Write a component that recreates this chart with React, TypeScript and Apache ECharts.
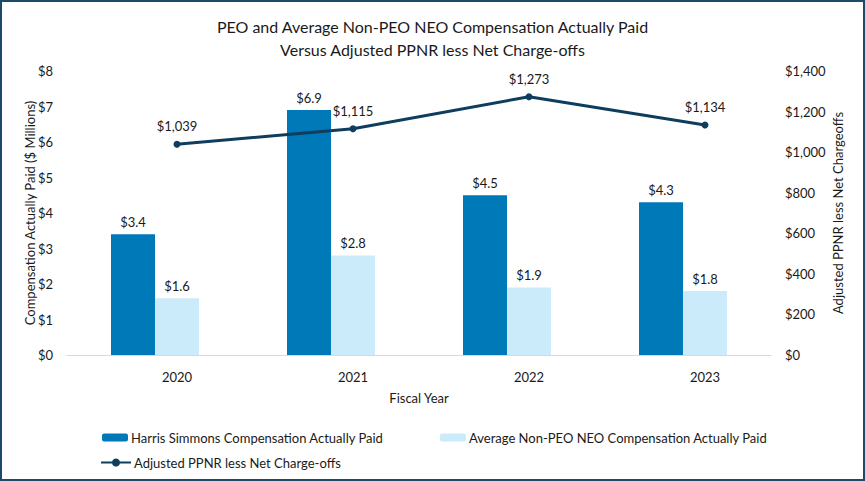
import React, { useEffect, useRef } from "react";
import * as echarts from "echarts";

const categories = ["2020", "2021", "2022", "2023"];
const peoValues = [3.4, 6.9, 4.5, 4.3];
const neoValues = [1.6, 2.8, 1.9, 1.8];
const ppnrValues = [1039, 1115, 1273, 1134];
const leftTicks = { min: 0, max: 8, interval: 1 };
const rightTicks = { min: 0, max: 1400, interval: 200 };

const PEO_NAME = "Harris Simmons Compensation Actually Paid";
const NEO_NAME = "Average Non-PEO NEO Compensation Actually Paid";
const LINE_NAME = "Adjusted PPNR less Net Charge-offs";

const FONT = "Lato";
const TXT = "#1a1a1a";

export default function App() {
  const ref = useRef<HTMLDivElement>(null);
  useEffect(() => {
    if (!ref.current) return;
    const chart = echarts.init(ref.current, undefined, { renderer: "svg" });
    const money = (v: number) => "$" + v.toLocaleString("en-US");
    chart.setOption({
      animation: false,
      backgroundColor: "#fff",
      textStyle: { fontFamily: FONT, color: TXT },
      title: {
        text: "PEO and Average Non-PEO NEO Compensation Actually Paid\nVersus Adjusted PPNR less Net Charge-offs",
        left: "center",
        top: 10,
        textStyle: { fontFamily: FONT, fontSize: 16, fontWeight: "normal", color: TXT, lineHeight: 23 },
      },
      graphic: [
        {
          type: "rect",
          shape: { x: 1, y: 1, width: 863, height: 479 },
          style: { fill: "none", stroke: "#1b4a6b", lineWidth: 2 },
          z: 100,
        },
      ],
      legend: [
        {
          data: [PEO_NAME],
          left: 97,
          top: 426,
          itemWidth: 26,
          itemHeight: 8,
          textStyle: { fontFamily: FONT, fontSize: 13, color: TXT, padding: [0, 0, 0, -2] },
        },
        {
          data: [NEO_NAME],
          left: 435,
          top: 426,
          itemWidth: 26,
          itemHeight: 8,
          textStyle: { fontFamily: FONT, fontSize: 13, color: TXT, padding: [0, 0, 0, -2] },
        },
        {
          data: [LINE_NAME],
          left: 95,
          top: 451,
          itemWidth: 30,
          itemHeight: 10,
          textStyle: { fontFamily: FONT, fontSize: 13, color: TXT, padding: [0, 0, 0, -2] },
        },
      ],
      grid: [
        { left: 67, right: 94, top: 71, bottom: 126 },
        { left: 89, right: 72, top: 71, bottom: 126 },
      ],
      xAxis: [
        {
          type: "category",
          gridIndex: 0,
          data: categories,
          axisLine: { lineStyle: { color: "#d9d9d9", width: 1 } },
          axisTick: { show: false },
          axisLabel: { show: false },
          name: "Fiscal Year",
          nameLocation: "middle",
          nameGap: 36,
          nameMoveOverlap: false,
          nameTextStyle: { fontFamily: FONT, fontSize: 13, color: TXT },
        },
        {
          type: "category",
          gridIndex: 1,
          data: categories,
          axisLine: { show: false },
          axisTick: { show: false },
          axisLabel: { fontFamily: FONT, fontSize: 13, color: TXT, margin: 15 },
        },
      ],
      yAxis: [
        {
          type: "value",
          gridIndex: 0,
          ...leftTicks,
          axisLine: { show: false },
          axisTick: { show: false },
          splitLine: { show: false },
          axisLabel: { fontFamily: FONT, fontSize: 13, color: TXT, margin: 14, formatter: (v: number) => "$" + v },
          name: "Compensation Actually Paid ($ Millions)",
          nameLocation: "middle",
          nameRotate: 90,
          nameGap: 31,
          nameMoveOverlap: false,
          nameTextStyle: { fontFamily: FONT, fontSize: 13, color: TXT },
        },
        {
          type: "value",
          gridIndex: 0,
          position: "right",
          ...rightTicks,
          axisLine: { show: false },
          axisTick: { show: false },
          splitLine: { show: false },
          axisLabel: { fontFamily: FONT, fontSize: 13, color: TXT, margin: 14, formatter: money },
          name: "Adjusted PPNR less Net Chargeoffs",
          nameLocation: "middle",
          nameRotate: 90,
          nameGap: 60,
          nameMoveOverlap: false,
          nameTextStyle: { fontFamily: FONT, fontSize: 13, color: TXT },
        },
        {
          type: "value",
          gridIndex: 1,
          ...rightTicks,
          show: false,
        },
      ],
      series: [
        {
          name: PEO_NAME,
          type: "bar",
          xAxisIndex: 0,
          yAxisIndex: 0,
          data: peoValues,
          barWidth: 44,
          barGap: "0%",
          itemStyle: { color: "#0079b8" },
          label: {
            show: true,
            position: "top",
            distance: 6,
            fontFamily: FONT,
            fontSize: 13,
            color: TXT,
            formatter: (p: any) => "$" + p.value.toFixed(1),
          },
        },
        {
          name: NEO_NAME,
          type: "bar",
          xAxisIndex: 0,
          yAxisIndex: 0,
          data: neoValues,
          barWidth: 44,
          barGap: "0%",
          itemStyle: { color: "#ccebfa" },
          label: {
            show: true,
            position: "top",
            distance: 6,
            fontFamily: FONT,
            fontSize: 13,
            color: TXT,
            formatter: (p: any) => "$" + p.value.toFixed(1),
          },
        },
        {
          name: LINE_NAME,
          type: "line",
          xAxisIndex: 1,
          yAxisIndex: 2,
          data: ppnrValues,
          symbol: "circle",
          symbolSize: 7,
          lineStyle: { color: "#0e3d5e", width: 3 },
          itemStyle: { color: "#0e3d5e" },
          label: {
            show: true,
            position: "top",
            distance: 8,
            fontFamily: FONT,
            fontSize: 13,
            color: TXT,
            formatter: (p: any) => money(p.value),
          },
        },
      ],
    });
    return () => chart.dispose();
  }, []);
  return (
    <div style={{ position: "fixed", left: 0, top: 0, width: 865, height: 481 }}>
      <div ref={ref} style={{ width: 865, height: 481 }} />
    </div>
  );
}
